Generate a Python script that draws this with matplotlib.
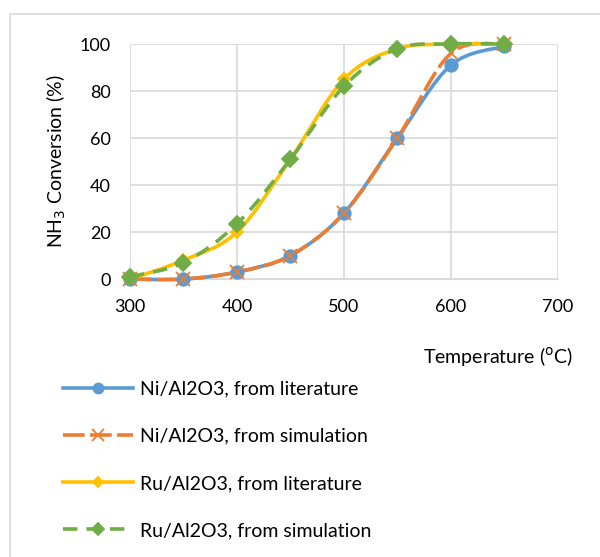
import numpy as np
import matplotlib.pyplot as plt
from matplotlib.path import Path
from matplotlib.patches import PathPatch, Rectangle
from matplotlib.lines import Line2D

plt.rcParams['font.family'] = ['Lato', 'DejaVu Sans']

temperature = [300, 350, 400, 450, 500, 550, 600, 650]
ni_literature = [0, 0, 3, 10, 28, 60, 91, 99]
ni_simulation = [0, 0, 3, 10, 28, 60, 96, 100]
ru_literature = [0, 8, 20, 51, 85, 98, 100, 100]
ru_simulation = [1, 7, 23.5, 51, 82, 98, 100, 100]

labels = ['Ni/Al2O3, from literature', 'Ni/Al2O3, from simulation',
          'Ru/Al2O3, from literature', 'Ru/Al2O3, from simulation']
colors = ['#5B9BD5', '#ED7D31', '#FFC000', '#70AD47']


def smooth_path(x, y):
    """Excel style smoothed line as cubic bezier segments"""
    pts = np.column_stack([x, y]).astype(float)
    verts = [pts[0]]
    codes = [Path.MOVETO]
    n = len(pts)
    for i in range(n - 1):
        p0 = pts[max(i - 1, 0)]
        p1 = pts[i]
        p2 = pts[i + 1]
        p3 = pts[min(i + 2, n - 1)]
        c1 = p1 + (p2 - p0) / 6.0
        c2 = p2 - (p3 - p1) / 6.0
        verts += [c1, c2, p2]
        codes += [Path.CURVE4] * 3
    return Path(verts, codes)


fig = plt.figure(figsize=(6, 5.57), dpi=100)
ax = fig.add_axes([0.2167, 0.499, 0.713, 0.422])

series = [ni_literature, ni_simulation, ru_literature, ru_simulation]
markers = ['o', 'x', 'D', 'D']
msizes = [9, 10, 6, 8]
styles = ['-', (0, (6, 1.5)), '-', (0, (4, 2.5))]
handles = []
for vals, col, mk, ms, ls, lab in zip(series, colors, markers, msizes,
                                        styles, labels):
    patch = PathPatch(smooth_path(temperature, vals), facecolor='none',
                      edgecolor=col, lw=2.6, linestyle=ls,
                      capstyle='butt', zorder=3, clip_on=False)
    ax.add_patch(patch)
    ax.plot(temperature, vals, linestyle='none', marker=mk, ms=ms,
            color=col, mew=1.3, zorder=4, clip_on=False)
    handles.append(Line2D([], [], color=col, lw=2.6, linestyle=ls,
                          marker=mk, ms=ms * 0.8, mew=1.3, label=lab))

ax.set_xlim(300, 700)
ax.set_ylim(0, 100)
ax.set_xticks(range(300, 701, 100))
ax.set_yticks(range(0, 101, 20))
ax.grid(True, color='#D9D9D9', lw=1.2)
ax.set_axisbelow(True)
for side in ['top', 'right', 'left']:
    ax.spines[side].set_visible(False)
ax.spines['bottom'].set_color('#D9D9D9')
ax.tick_params(length=0, labelsize=13)
ax.tick_params(axis='y', pad=14)
ax.tick_params(axis='x', pad=14)
ax.set_ylabel('NH$_3$ Conversion (%)', fontsize=14, labelpad=8)

fig.text(0.955, 0.36, 'Temperature ($^{\\rm o}$C)', fontsize=14,
         ha='right', va='center')

fig.legend(handles=handles, loc='upper left', bbox_to_anchor=(0.075, 0.348),
           frameon=False, fontsize=14, handlelength=3.6,
           labelspacing=1.55, handletextpad=0.36)

fig.add_artist(Rectangle((10 / 600, -0.1), 1.2, 1 - 14 / 557 + 0.1,
                         transform=fig.transFigure, facecolor='none',
                         edgecolor='#D9D9D9', lw=1.2))

fig.savefig('out.png', dpi=100)
